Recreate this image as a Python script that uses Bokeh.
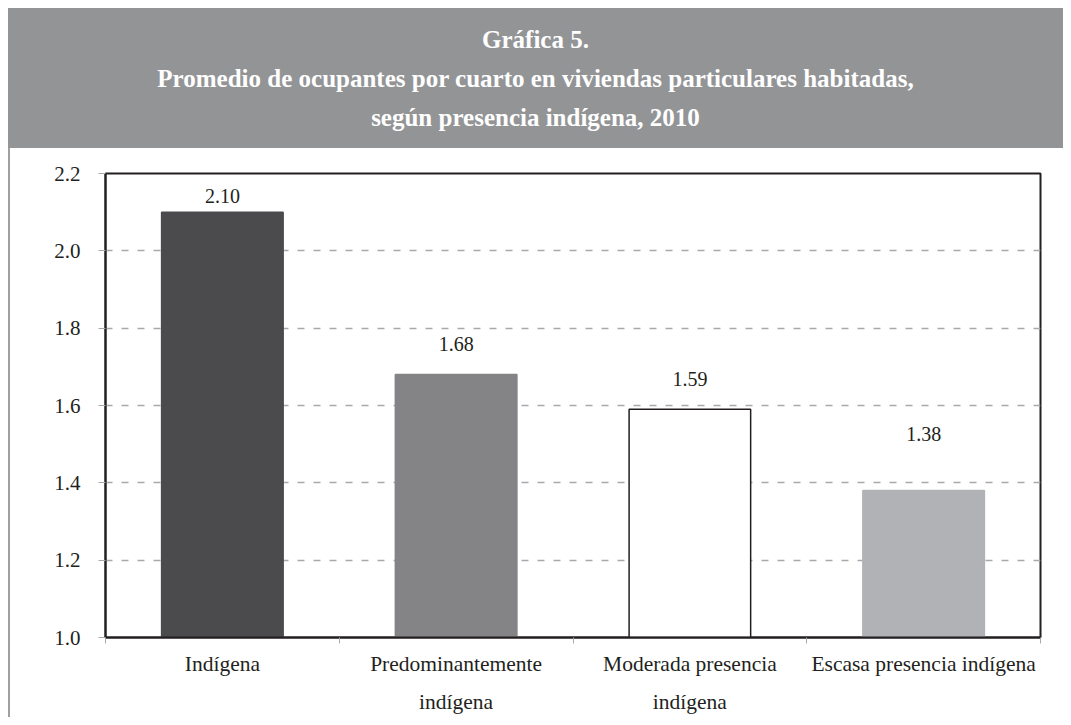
from bokeh.plotting import figure
from bokeh.models import (ColumnDataSource, Range1d, FixedTicker, Div, NumeralTickFormatter)
from bokeh.layouts import column, row
from bokeh.core.properties import value
from bokeh.embed import file_html
from bokeh.resources import INLINE

# ---- data ----
categories = ["Indígena", "Predominantemente\nindígena", "Moderada presencia\nindígena",
              "Escasa presencia indígena"]
values = [2.10, 1.68, 1.59, 1.38]
value_labels = ["2.10", "1.68", "1.59", "1.38"]
y_ticks = [1.0, 1.2, 1.4, 1.6, 1.8, 2.0, 2.2]

# ---- styles ----
bar_colors = ["#4b4b4d", "#848487", "#ffffff", "#b1b2b5"]
bar_lines = ["#4b4b4d", "#848487", "#231f20", "#b1b2b5"]
label_lift = [-9, -24, -23, -50]   # px above bar tops
FONT = "Liberation Serif"
TXT = "#231f20"

xs = [i + 0.5 for i in range(len(categories))]
src = ColumnDataSource(dict(x=xs, top=values, fill=bar_colors, line=bar_lines,
                            lab=value_labels, dy=label_lift))

p = figure(width=1053, height=569, output_backend="svg", toolbar_location=None,
           x_range=Range1d(0, len(categories)), y_range=Range1d(1.0, 2.2))
p.min_border_left = 95
p.min_border_right = 23
p.min_border_top = 25
p.min_border_bottom = 79
p.background_fill_color = "white"
p.border_fill_color = "white"
p.outline_line_color = TXT
p.outline_line_width = 2

p.vbar(x="x", top="top", bottom=1.0, width=0.52, source=src,
       fill_color="fill", line_color="line", line_width=1.5)
p.text(x="x", y="top", text="lab", source=src, y_offset="dy",
       text_align="center", text_baseline="bottom",
       text_font=value(FONT), text_font_size="20px", text_color=TXT)

# grid
p.xgrid.visible = False
p.ygrid.ticker = FixedTicker(ticks=[1.2, 1.4, 1.6, 1.8, 2.0])
p.ygrid.grid_line_color = "#a7a9ac"
p.ygrid.grid_line_width = 1.5
p.ygrid.grid_line_dash = "7 9"

# y axis
p.yaxis.ticker = FixedTicker(ticks=y_ticks)
p.yaxis.formatter = NumeralTickFormatter(format="0.0")
p.yaxis.major_tick_out = 7
p.yaxis.major_tick_in = 0
p.yaxis.major_tick_line_color = "#a7a9ac"
p.yaxis.minor_tick_line_color = None
p.yaxis.axis_line_color = TXT
p.yaxis.axis_line_width = 2
p.yaxis.major_label_standoff = 18
p.yaxis.major_label_text_font = FONT
p.yaxis.major_label_text_font_size = "21px"
p.yaxis.major_label_text_color = TXT

# x axis
p.xaxis.ticker = FixedTicker(ticks=xs, minor_ticks=list(range(len(categories) + 1)))
p.xaxis.major_label_overrides = {x: c for x, c in zip(xs, categories)}
p.xaxis.major_tick_out = 0
p.xaxis.major_tick_in = 0
p.xaxis.minor_tick_out = 6
p.xaxis.minor_tick_in = 0
p.xaxis.minor_tick_line_color = "#a7a9ac"
p.xaxis.axis_line_color = TXT
p.xaxis.axis_line_width = 2
p.xaxis.major_label_standoff = 8
p.xaxis.major_label_text_font = FONT
p.xaxis.major_label_text_font_size = "21.5px"
p.xaxis.major_label_text_line_height = 1.62
p.xaxis.major_label_text_color = TXT

header = Div(width=1055, height=140, margin=(8, 0, 0, 8), text=(
    '<div style="width:1055px;height:140px;background:#939496;color:#ffffff;'
    'font-family:\'Liberation Serif\',serif;font-weight:bold;font-size:25px;'
    'text-align:center;line-height:39px;padding-top:12px;box-sizing:border-box;">'
    'Gráfica 5.<br>'
    'Promedio de ocupantes por cuarto en viviendas particulares habitadas,<br>'
    'según presencia indígena, 2010</div>'))
side = Div(width=2, height=569, margin=(0, 0, 0, 8),
           text='<div style="width:2px;height:569px;background:#a0a0a2;"></div>')

layout = column(header, row(side, p, spacing=0), spacing=0)
open("out.html", "w").write(file_html(layout, INLINE))
